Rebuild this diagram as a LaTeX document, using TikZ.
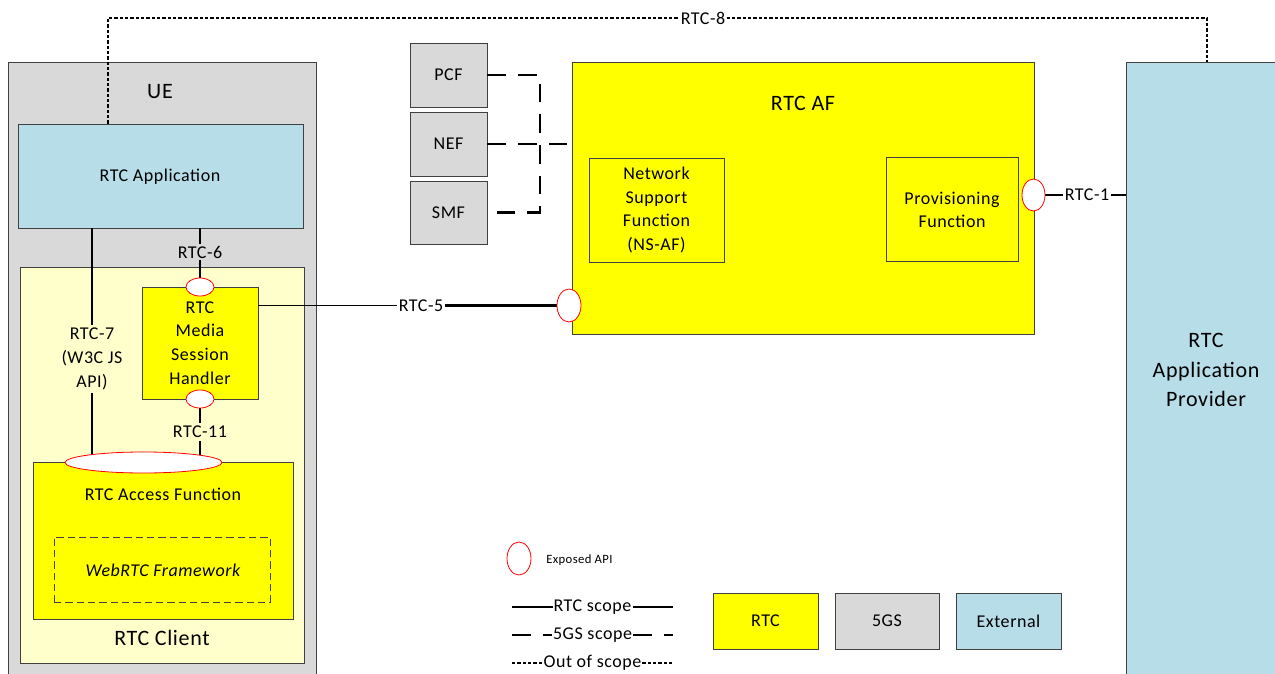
\documentclass[tikz,border=0pt]{standalone}
\usepackage{fontspec}
\setmainfont{Carlito}[LetterSpace=3]
\usetikzlibrary{shapes.geometric,fit}
\definecolor{uegray}{HTML}{D9D9D9}
\definecolor{rtcyellow}{HTML}{FFFF00}
\definecolor{clientyellow}{HTML}{FFFFCC}
\definecolor{extblue}{HTML}{B7DDE8}
\pgfdeclarelayer{fg}
\pgfsetlayers{main,fg}
\begin{document}
\begin{tikzpicture}[x=0.75pt,y=-0.75pt,
  box/.style={draw=black!75, line width=0.7pt, inner sep=0pt},
  api/.style={ellipse, draw=red, fill=white, line width=0.6pt, inner sep=0pt},
  txt/.style={font=\fontsize{13.5}{17.8}\selectfont, align=center, inner sep=1pt},
  big/.style={font=\fontsize{16.5}{22}\selectfont, align=center, inner sep=1pt},
  lbl/.style={font=\fontsize{13.5}{17.8}\selectfont, align=center, inner sep=2pt},
  lgl/.style={font=\fontsize{13.5}{17.8}\selectfont, inner sep=0.6pt},
  rtcline/.style={line width=1.5pt},
  gsline/.style={line width=1.7pt, dash pattern=on 14pt off 9pt},
  oosline/.style={line width=1.6pt, dash pattern=on 2.4pt off 1.6pt}]
\useasboundingbox (0,0) rectangle (1275,674);

% UE side
\node[box, fill=uegray, fit={(8,62) (316,684)}] (ue) {};
\node[big] (uet) at (160,92) {UE};
\node[box, fill=extblue, fit={(18,124) (303,228)}] (app) {};
\node[txt] (appt) at (160,177) {RTC Application};
\node[box, fill=clientyellow, fit={(20,267) (304,663)}] (client) {};
\node[big] (clientt) at (162,638) {RTC Client};
\node[box, fill=rtcyellow, fit={(142,287) (258,399)}] (msh) {};
\node[txt] (msht) at (200,343) {RTC\\Media\\Session\\Handler};
\node[box, fill=rtcyellow, fit={(33,462) (293,619)}] (acc) {};
\node[txt] (acct) at (163,494) {RTC Access Function};
\node[box, dash pattern=on 5.5pt off 3pt, fit={(54,537) (270,602)}] (web) {};
\node[txt, font=\fontsize{13.5}{17.8}\selectfont\itshape] (webt) at (163,570) {WebRTC Framework};

% RTC AF
\node[box, fill=rtcyellow, fit={(572,62) (1034,334)}] (af) {};
\node[big] (aft) at (803,103) {RTC AF};
\node[box, fill=rtcyellow, fit={(589,158) (724,262)}] (nsaf) {};
\node[txt] (nsaft) at (656.5,210) {Network\\Support\\Function\\(NS-AF)};
\node[box, fill=rtcyellow, fit={(886,157) (1018,261)}] (pf) {};
\node[txt] (pft) at (952,210) {Provisioning\\Function};

% Provider
\node[box, fill=extblue, fit={(1126,62) (1290,684)}] (prov) {};
\node[big] (provt) at (1206,370) {RTC\\Application\\Provider};

% 5GS functions
\node[box, fill=uegray, fit={(410,43) (487,107)}] (pcf) {};
\node[txt] (pcft) at (448.5,75) {PCF};
\node[box, fill=uegray, fit={(410,112) (487,176)}] (nef) {};
\node[txt] (neft) at (448.5,144) {NEF};
\node[box, fill=uegray, fit={(410,181) (487,244)}] (smf) {};
\node[txt] (smft) at (448.5,212.5) {SMF};

% exposed API ellipses (on top)
\begin{pgfonlayer}{fg}
\node[api, minimum width=21pt, minimum height=13.5pt] (he1) at (200,287) {};
\node[api, minimum width=21pt, minimum height=13.5pt] (he2) at (200,399) {};
\node[api, minimum width=117.75pt, minimum height=15.75pt] (afe) at (143.5,462.5) {};
\node[api, minimum width=18pt, minimum height=24.75pt] (e5) at (569,305.5) {};
\node[api, minimum width=17.25pt, minimum height=24pt] (e1) at (1033.5,195) {};
\end{pgfonlayer}

% interface labels
\node[lbl, fill=uegray, inner sep=1pt] (l6) at (200,252) {RTC-6};
\node[lbl] (l7) at (92,359) {RTC-7\\(W3C JS\\API)};
\node[lbl] (l11) at (200,432) {RTC-11};
\node[lbl, inner sep=1pt] (l5) at (421,305.5) {RTC-5};
\node[lbl, inner sep=1pt] (l1) at (1087,195) {RTC-1};
\node[lbl, inner sep=1pt] (l8) at (703,18) {RTC-8};

% connectors
\draw[rtcline] (app.south -| l7) -- (l7) -- (l7 |- afe.center);
\draw[rtcline] (app.south -| l6) -- (l6) -- (he1.center);
\draw[rtcline] (he2.center) -- (l11) -- (l11 |- afe.center);
\draw[line width=0.9pt] (msh.east |- l5) -- (l5);
\draw[line width=1.7pt] (l5) -- (e5.center);
\draw[rtcline] (e1.center) -- (l1) -- (prov.west |- l1);
\coordinate (c8a) at (108,18);
\coordinate (c8b) at (1207,18);
\draw[oosline] (app.north -| c8a) -- (c8a) -- (l8) -- (c8b) -- (prov.north -| c8b);
\coordinate (j1) at (540,75);
\coordinate (j2) at (540,212.5);
\draw[gsline] (pcf.east) -- (j1) -- (j2) -- (smf.east);
\draw[gsline] (nef.east) -- (af.west |- nef.east);

% legend
\node[api, minimum width=18pt, minimum height=24.75pt] (lge) at (519,558.5) {};
\node[font=\fontsize{9.5}{11}\selectfont, anchor=west, inner sep=0pt] (lget) at (546,560) {Exposed API};
\coordinate (r1a) at (512,607); \coordinate (r1b) at (673,607);
\node[lgl] (r1t) at (592.5,607) {RTC scope};
\draw[rtcline] (r1a) -- (r1t) -- (r1b);
\coordinate (r2a) at (512,635); \coordinate (r2b) at (673,635);
\node[lgl] (r2t) at (592.5,635) {5GS scope};
\draw[gsline] (r2a) -- (r2t) -- (r2b);
\coordinate (r3a) at (512,663); \coordinate (r3b) at (673,663);
\node[lgl] (r3t) at (592.5,663) {Out of scope};
\draw[oosline] (r3a) -- (r3t) -- (r3b);
\node[box, fill=rtcyellow, fit={(713,593) (818,649)}] (lgrtc) {};
\node[txt] (lgrtct) at (765.5,621) {RTC};
\node[box, fill=uegray, fit={(835,593) (939,649)}] (lg5gs) {};
\node[txt] (lg5gst) at (887,621) {5GS};
\node[box, fill=extblue, fit={(956,593) (1061,649)}] (lgext) {};
\node[txt] (lgextt) at (1008.5,621) {External};
\end{tikzpicture}
\end{document}
